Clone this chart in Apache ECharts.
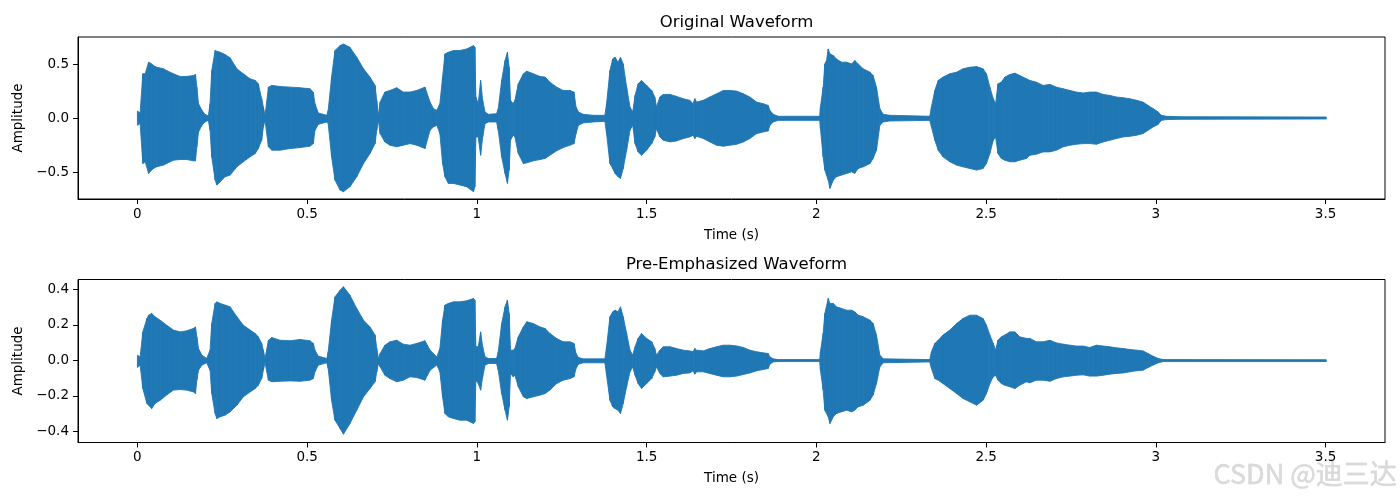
<!DOCTYPE html>
<html>
<head>
<meta charset="utf-8">
<script src="https://cdn.jsdelivr.net/npm/echarts@6/dist/echarts.min.js"></script>
<style>html,body{margin:0;padding:0;background:#fff;}#c{width:1400px;height:500px;}</style>
</head>
<body>
<div id="c"></div>
<script>
// ---- Data: waveform envelopes (time in s, upper / lower amplitude) ----
const xTicks = [0, 0.5, 1, 1.5, 2, 2.5, 3, 3.5];
const topYTicks = [-0.5, 0, 0.5];
const bottomYTicks = [-0.4, -0.2, 0, 0.2, 0.4];
const titles = ['Original Waveform', 'Pre-Emphasized Waveform'];

const topTime = [0.000,0.008,0.016,0.023,0.033,0.042,0.047,0.057,0.077,0.086,0.106,0.126,0.145,0.165,0.171,0.175,0.180,0.190,0.199,0.209,0.214,0.219,0.229,0.234,0.244,0.258,0.273,0.293,0.312,0.332,0.347,0.356,0.366,0.371,0.376,0.386,0.396,0.420,0.450,0.479,0.508,0.518,0.523,0.533,0.558,0.562,0.572,0.582,0.597,0.607,0.626,0.646,0.666,0.685,0.700,0.705,0.710,0.715,0.729,0.744,0.764,0.783,0.803,0.823,0.847,
0.862,0.872,0.882,0.891,0.899,0.906,0.916,0.931,0.950,0.970,0.990,0.994,0.997,1.004,1.011,1.017,1.024,1.034,1.058,1.063,1.073,1.083,1.090,1.095,1.099,1.107,1.112,1.122,1.137,1.147,1.166,1.186,1.201,1.215,1.235,1.254,1.274,1.286,1.292,1.299,1.313,1.343,1.377,1.382,1.392,1.400,1.407,1.416,1.423,1.431,1.441,1.451,1.459,1.466,1.475,1.485,1.500,1.515,1.524,1.529,1.539,1.549,1.569,1.588,1.608,1.627,1.637,1.642,1.647,1.667,1.686,1.706,1.726,
1.745,1.765,1.785,1.804,1.824,1.843,1.858,1.863,1.873,1.888,2.010,2.012,2.020,2.025,2.030,2.035,2.040,2.050,2.059,2.074,2.089,2.104,2.113,2.123,2.138,2.158,2.167,2.177,2.187,2.197,2.216,2.334,2.339,2.349,2.359,2.373,2.393,2.413,2.432,2.452,2.472,2.491,2.501,2.511,2.521,2.528,2.535,2.545,2.555,2.570,2.585,2.599,2.619,
2.629,2.648,2.668,2.688,2.707,2.727,2.747,2.766,2.786,2.805,2.825,2.845,2.864,2.884,2.904,2.923,2.943,2.962,2.977,2.992,3.007,3.016,3.031,3.070,3.502];

const topUpper = [0.068,0.049,0.414,0.414,0.522,0.506,0.491,0.475,0.460,0.444,0.414,0.389,0.389,0.398,0.407,0.290,0.136,0.074,0.037,0.022,0.136,0.444,0.630,0.623,0.614,0.593,0.562,0.460,0.414,0.367,0.352,0.321,0.182,0.105,0.028,0.290,0.306,0.296,0.290,0.284,0.275,0.244,0.136,0.049,0.028,0.074,0.383,0.630,0.676,0.691,0.660,0.568,0.460,0.383,0.306,0.167,0.028,0.151,0.244,0.259,0.284,0.244,0.244,0.259,0.290,
0.151,0.090,0.074,0.136,0.383,0.599,0.614,0.630,0.630,0.645,0.676,0.660,0.198,0.136,0.352,0.167,0.059,0.037,0.043,0.090,0.352,0.537,0.614,0.475,0.167,0.136,0.167,0.321,0.414,0.438,0.414,0.389,0.383,0.336,0.290,0.259,0.259,0.244,0.105,0.059,0.037,0.028,0.028,0.136,0.444,0.552,0.568,0.522,0.568,0.506,0.290,0.105,0.059,0.213,0.321,0.352,0.306,0.259,0.198,0.105,0.198,0.222,0.222,0.204,0.182,0.167,0.136,0.182,0.151,0.167,0.198,0.228,0.259,
0.259,0.253,0.228,0.198,0.151,0.136,0.120,0.074,0.037,0.019,0.019,0.105,0.290,0.506,0.537,0.645,0.599,0.583,0.552,0.522,0.522,0.506,0.537,0.506,0.460,0.429,0.398,0.290,0.090,0.037,0.028,0.019,0.105,0.259,0.352,0.383,0.414,0.429,0.460,0.475,0.481,0.460,0.414,0.290,0.182,0.136,0.321,0.336,0.383,0.407,0.420,0.398,0.367,
0.352,0.336,0.306,0.315,0.290,0.275,0.259,0.244,0.235,0.244,0.244,0.222,0.213,0.198,0.191,0.182,0.167,0.151,0.120,0.090,0.059,0.028,0.019,0.015,0.012];

const topLower = [-0.065,-0.049,-0.420,-0.404,-0.512,-0.481,-0.466,-0.450,-0.435,-0.420,-0.389,-0.383,-0.383,-0.395,-0.395,-0.265,-0.127,-0.065,-0.034,-0.019,-0.111,-0.358,-0.574,-0.620,-0.590,-0.543,-0.528,-0.451,-0.404,-0.358,-0.327,-0.281,-0.204,-0.080,-0.019,-0.265,-0.296,-0.296,-0.281,-0.272,-0.259,-0.235,-0.111,-0.056,-0.034,-0.049,-0.358,-0.574,-0.667,-0.682,-0.636,-0.543,-0.420,-0.327,-0.235,-0.111,-0.019,-0.142,-0.219,-0.250,-0.265,-0.250,-0.235,-0.250,-0.281,
-0.111,-0.080,-0.065,-0.142,-0.420,-0.543,-0.605,-0.605,-0.620,-0.636,-0.682,-0.636,-0.173,-0.173,-0.343,-0.173,-0.049,-0.034,-0.034,-0.111,-0.358,-0.512,-0.605,-0.481,-0.204,-0.157,-0.173,-0.327,-0.420,-0.414,-0.395,-0.383,-0.373,-0.343,-0.302,-0.272,-0.250,-0.235,-0.142,-0.065,-0.043,-0.034,-0.028,-0.142,-0.420,-0.466,-0.512,-0.543,-0.559,-0.466,-0.296,-0.111,-0.065,-0.235,-0.312,-0.343,-0.296,-0.235,-0.173,-0.096,-0.173,-0.204,-0.219,-0.210,-0.188,-0.173,-0.157,-0.188,-0.167,-0.188,-0.219,-0.250,-0.259,
-0.250,-0.241,-0.219,-0.188,-0.142,-0.127,-0.117,-0.065,-0.034,-0.019,-0.019,-0.096,-0.358,-0.481,-0.528,-0.574,-0.651,-0.574,-0.543,-0.528,-0.512,-0.497,-0.512,-0.466,-0.451,-0.420,-0.373,-0.296,-0.065,-0.034,-0.025,-0.019,-0.080,-0.204,-0.296,-0.358,-0.404,-0.435,-0.451,-0.466,-0.481,-0.466,-0.420,-0.327,-0.204,-0.173,-0.327,-0.373,-0.389,-0.404,-0.404,-0.389,-0.373,
-0.343,-0.333,-0.312,-0.312,-0.296,-0.265,-0.250,-0.241,-0.235,-0.235,-0.241,-0.219,-0.204,-0.188,-0.173,-0.167,-0.157,-0.142,-0.111,-0.080,-0.056,-0.019,-0.012,-0.009,-0.006];

const bottomTime = [0.000,0.008,0.016,0.028,0.033,0.042,0.052,0.067,0.086,0.106,0.126,0.145,0.165,0.171,0.175,0.180,0.190,0.204,0.214,0.219,0.229,0.234,0.244,0.258,0.273,0.293,0.312,0.332,0.347,0.356,0.366,0.371,0.376,0.386,0.396,0.420,0.450,0.479,0.508,0.518,0.523,0.533,0.558,0.562,0.572,0.582,0.597,0.607,0.626,0.646,0.666,0.685,0.700,0.705,0.710,0.715,0.729,0.744,0.764,0.783,0.803,0.823,0.847,
0.862,0.882,0.891,0.899,0.906,0.916,0.931,0.950,0.970,0.990,0.994,0.997,1.004,1.011,1.017,1.024,1.034,1.058,1.063,1.073,1.083,1.090,1.095,1.099,1.107,1.112,1.122,1.137,1.147,1.166,1.186,1.201,1.215,1.235,1.254,1.274,1.286,1.292,1.299,1.313,1.377,1.382,1.392,1.400,1.407,1.416,1.423,1.431,1.441,1.451,1.459,1.466,1.475,1.485,1.500,1.515,1.524,1.529,1.539,1.549,1.569,1.588,1.608,1.627,1.637,1.642,1.647,1.667,1.686,1.706,1.726,
1.745,1.765,1.785,1.804,1.824,1.843,1.858,1.863,1.873,1.888,2.010,2.012,2.020,2.025,2.035,2.040,2.050,2.059,2.074,2.089,2.104,2.113,2.123,2.138,2.158,2.167,2.177,2.187,2.197,2.334,2.339,2.349,2.359,2.373,2.393,2.413,2.432,2.452,2.472,2.491,2.501,2.511,2.521,2.528,2.535,2.545,2.555,2.570,2.585,2.599,2.619,
2.629,2.648,2.668,2.688,2.707,2.727,2.747,2.766,2.786,2.805,2.825,2.845,2.864,2.884,2.904,2.923,2.943,2.962,2.977,2.992,3.007,3.022,3.502];

const bottomUpper = [0.030,0.020,0.161,0.236,0.255,0.265,0.246,0.227,0.199,0.171,0.161,0.167,0.180,0.189,0.133,0.067,0.030,0.011,0.058,0.208,0.321,0.330,0.321,0.312,0.302,0.246,0.199,0.171,0.152,0.133,0.096,0.058,0.011,0.114,0.129,0.114,0.111,0.118,0.111,0.096,0.058,0.024,0.011,0.049,0.227,0.358,0.396,0.415,0.368,0.293,0.227,0.189,0.143,0.067,0.011,0.039,0.086,0.105,0.114,0.092,0.086,0.096,0.111,
0.058,0.020,0.067,0.227,0.312,0.321,0.330,0.330,0.336,0.349,0.340,0.077,0.077,0.161,0.077,0.020,0.011,0.011,0.049,0.208,0.302,0.340,0.265,0.058,0.058,0.067,0.133,0.189,0.218,0.208,0.189,0.180,0.152,0.124,0.105,0.105,0.096,0.039,0.017,0.009,0.009,0.077,0.246,0.274,0.283,0.274,0.302,0.246,0.152,0.058,0.030,0.077,0.124,0.152,0.124,0.105,0.067,0.030,0.058,0.077,0.077,0.067,0.058,0.054,0.049,0.067,0.058,0.054,0.067,0.077,0.086,
0.086,0.082,0.073,0.058,0.049,0.043,0.039,0.020,0.009,0.005,0.005,0.049,0.152,0.265,0.349,0.321,0.321,0.302,0.293,0.283,0.283,0.274,0.255,0.246,0.227,0.208,0.143,0.030,0.009,0.005,0.049,0.096,0.114,0.143,0.171,0.208,0.236,0.255,0.255,0.236,0.199,0.143,0.096,0.058,0.114,0.133,0.143,0.161,0.161,0.133,0.124,
0.124,0.105,0.105,0.114,0.099,0.092,0.086,0.081,0.081,0.073,0.086,0.081,0.077,0.071,0.067,0.062,0.058,0.054,0.039,0.024,0.011,0.005,0.004];

const bottomLower = [-0.040,-0.026,-0.158,-0.242,-0.252,-0.271,-0.242,-0.224,-0.195,-0.167,-0.164,-0.167,-0.177,-0.186,-0.111,-0.055,-0.026,-0.013,-0.055,-0.186,-0.299,-0.327,-0.317,-0.308,-0.289,-0.252,-0.205,-0.177,-0.158,-0.139,-0.102,-0.055,-0.013,-0.111,-0.120,-0.117,-0.115,-0.117,-0.111,-0.102,-0.064,-0.026,-0.013,-0.045,-0.224,-0.336,-0.383,-0.415,-0.355,-0.280,-0.205,-0.158,-0.120,-0.064,-0.017,-0.036,-0.083,-0.102,-0.120,-0.111,-0.092,-0.096,-0.111,
-0.055,-0.026,-0.064,-0.205,-0.299,-0.317,-0.327,-0.336,-0.336,-0.355,-0.346,-0.111,-0.130,-0.167,-0.092,-0.026,-0.017,-0.017,-0.055,-0.186,-0.280,-0.336,-0.261,-0.073,-0.092,-0.083,-0.148,-0.205,-0.214,-0.205,-0.195,-0.186,-0.167,-0.130,-0.111,-0.102,-0.092,-0.045,-0.021,-0.013,-0.013,-0.083,-0.224,-0.261,-0.271,-0.280,-0.299,-0.242,-0.148,-0.064,-0.036,-0.083,-0.130,-0.158,-0.130,-0.102,-0.064,-0.036,-0.073,-0.092,-0.088,-0.083,-0.073,-0.070,-0.058,-0.077,-0.064,-0.064,-0.073,-0.083,-0.092,
-0.092,-0.088,-0.079,-0.070,-0.058,-0.051,-0.045,-0.021,-0.008,-0.006,-0.006,-0.055,-0.167,-0.280,-0.317,-0.355,-0.317,-0.299,-0.289,-0.280,-0.289,-0.280,-0.261,-0.252,-0.224,-0.195,-0.130,-0.036,-0.013,-0.008,-0.045,-0.102,-0.111,-0.130,-0.158,-0.186,-0.214,-0.233,-0.252,-0.224,-0.186,-0.130,-0.092,-0.083,-0.111,-0.130,-0.139,-0.148,-0.158,-0.139,-0.120,
-0.126,-0.111,-0.111,-0.117,-0.102,-0.092,-0.088,-0.083,-0.081,-0.088,-0.088,-0.083,-0.077,-0.073,-0.070,-0.064,-0.058,-0.055,-0.040,-0.026,-0.013,-0.006,-0.006];

// ---- Chart ----
const BLUE = '#1f77b4';
const FONT = 'DejaVu Sans';
const chart = echarts.init(document.getElementById('c'), null, {renderer: 'canvas'});

// one row per envelope segment: [t0, up0, lo0, t1, up1, lo1]
function segments(ts, up, lo) {
  const rows = [];
  for (let i = 0; i < ts.length - 1; i++) {
    rows.push([ts[i], up[i], lo[i], ts[i + 1], up[i + 1], lo[i + 1]]);
  }
  return rows;
}
function renderSeg(params, api) {
  const p0u = api.coord([api.value(0), api.value(1)]);
  const p1u = api.coord([api.value(3), api.value(4)]);
  const p1l = api.coord([api.value(3), api.value(5)]);
  const p0l = api.coord([api.value(0), api.value(2)]);
  return {
    type: 'polygon',
    shape: {points: [p0u, p1u, p1l, p0l]},
    style: {fill: BLUE, stroke: BLUE, lineWidth: 0.9}
  };
}
function fmtNum(v, dec) {
  const s = dec == null ? String(+v.toFixed(3)) : v.toFixed(dec);
  return s.replace('-', '\u2212');
}
function xAxisCfg(gridIndex) {
  return {
    type: 'value', gridIndex, min: -0.175, max: 3.675,
    axisLine: {show: true, onZero: false, lineStyle: {color: '#000', width: 1}},
    axisTick: {show: true, inside: false, length: 5, lineStyle: {color: '#000', width: 1}, customValues: xTicks},
    axisLabel: {show: true, margin: 8, color: '#000', fontFamily: FONT, fontSize: 13.5, customValues: xTicks,
      formatter: v => fmtNum(v)},
    splitLine: {show: false},
    name: 'Time (s)', nameLocation: 'middle', nameGap: 29,
    nameTextStyle: {color: '#000', fontFamily: FONT, fontSize: 13.5}
  };
}
function yAxisCfg(gridIndex, min, max, ticks) {
  return {
    type: 'value', gridIndex, min, max,
    axisLine: {show: true, onZero: false, lineStyle: {color: '#000', width: 1}},
    axisTick: {show: true, inside: false, length: 5, lineStyle: {color: '#000', width: 1}, customValues: ticks},
    axisLabel: {show: true, margin: 9, color: '#000', fontFamily: FONT, fontSize: 13.5, customValues: ticks,
      formatter: v => fmtNum(v, 1)},
    splitLine: {show: false},
    name: 'Amplitude', nameLocation: 'middle', nameGap: 48, nameRotate: 90,
    nameTextStyle: {color: '#000', fontFamily: FONT, fontSize: 13.5}
  };
}
function wave(xi, ts, up, lo) {
  return {
    type: 'custom', xAxisIndex: xi, yAxisIndex: xi,
    data: segments(ts, up, lo),
    encode: {x: [0, 3], y: [1, 2, 4, 5]},
    renderItem: renderSeg, silent: true, clip: true, z: 2
  };
}

const option = {
  animation: false,
  backgroundColor: '#fff',
  title: [
    {text: titles[0], left: 731.5, top: 9, textAlign: 'center',
     textStyle: {fontFamily: FONT, fontSize: 16.5, fontWeight: 'normal', color: '#000'}},
    {text: titles[1], left: 731.5, top: 251, textAlign: 'center',
     textStyle: {fontFamily: FONT, fontSize: 16.5, fontWeight: 'normal', color: '#000'}}
  ],
  grid: [
    {left: 78, right: 15, top: 37, height: 162, show: true, borderColor: '#000', borderWidth: 1, backgroundColor: 'transparent'},
    {left: 78, right: 15, top: 279.5, height: 163, show: true, borderColor: '#000', borderWidth: 1, backgroundColor: 'transparent'}
  ],
  xAxis: [xAxisCfg(0), xAxisCfg(1)],
  yAxis: [yAxisCfg(0, -0.75, 0.756, topYTicks), yAxisCfg(1, -0.462, 0.456, bottomYTicks)],
  series: [
    wave(0, topTime, topUpper, topLower),
    wave(1, bottomTime, bottomUpper, bottomLower)
  ],
  graphic: [
    {type: 'text', right: 3, top: 460, silent: true,
     style: {text: 'CSDN @迪三达', fontFamily: 'Noto Sans CJK SC', fontSize: 27, fontWeight: 'normal',
             fill: '#dadada', stroke: '#c8c8c8', lineWidth: 0.4}}
  ]
};
chart.setOption(option);
</script>
</body>
</html>
